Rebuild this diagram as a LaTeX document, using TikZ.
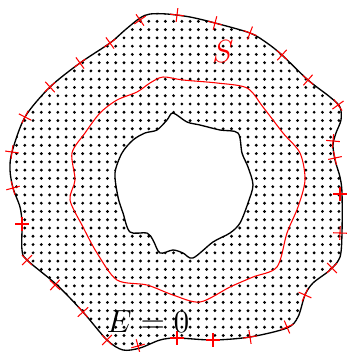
\documentclass[tikz,border=0pt]{standalone}
\usetikzlibrary{patterns}
\pgfdeclarepatternformonly{conductordots}{\pgfqpoint{-1pt}{-1pt}}{\pgfqpoint{1pt}{1pt}}{\pgfqpoint{3.1pt}{3.1pt}}%
    {\pgfpathcircle{\pgfpointorigin}{0.6pt}\pgfusepath{fill}}

\begin{document}
\begin{tikzpicture}[
        x=0.375pt, y=-0.375pt,
        region/.style={pattern=conductordots, even odd rule, draw=black, line width=0.5pt},
        tickmark/.style={red, line width=0.4pt},
        surface/.style={red, line width=0.4pt},
        label/.style={font=\large}
    ]
    \useasboundingbox (0,0) rectangle (346,352);

    % conductor with its hole
    \draw[region]
        plot[smooth cycle] coordinates {(140,18) (150,14) (167,14) (190,17) (215,23) (250,33) (267,43) (282,55) (308,80) (330,97) (340,107) (341,120) (336,133) (333,145) (335,160) (340,177) (342,193) (342,233) (340,257) (330,270) (313,283) (305,295) (298,317) (287,328) (250,337) (213,340) (177,338) (160,340) (140,348) (123,350) (107,340) (83,312) (57,285) (27,260) (22,250) (22,223) (20,207) (13,188) (10,170) (12,152) (25,117) (50,87) (80,63) (110,43) (125,30)}
        plot[smooth cycle] coordinates {(173,113) (187,122) (200,125) (220,130) (238,133) (242,153) (248,167) (253,185) (248,203) (240,223) (230,233) (213,242) (193,258) (183,253) (173,250) (160,253) (153,240) (147,233) (130,232) (123,213) (118,197) (115,173) (122,153) (133,140) (145,133) (157,130) (167,120)};

    % marks on the outer boundary
    \foreach \tx/\ty/\ta in {110/43/36, 140/20/35, 177/15/-7, 215/23/-15, 250/33/-21,
            282/55/-42, 308/80/-41, 338/105/-54, 333/141/-95, 335/158/-78,
            340/194/-90, 340/233/-92, 332/268/-136, 305/295/-114, 287/327/-157,
            250/337/-171, 213/340/180, 177/338/180, 138/346/-165, 107/340/136,
            83/312/132, 55/285/137, 27/260/135, 22/224/90, 13/188/105,
            12/152/82, 25/117/63, 50/87/42, 80/63/36}
        \draw[tickmark, shift={(\tx,\ty)}, rotate=\ta]
            (-2.6pt,0pt) -- (2.6pt,0pt) (0pt,-2.6pt) -- (0pt,2.6pt);

    % surface S
    \draw[surface]
        plot[smooth cycle] coordinates {(163,77) (183,80) (217,83) (247,88) (263,107) (283,133) (300,153) (305,180) (298,207) (287,233) (277,267) (253,277) (230,287) (200,302) (173,295) (147,285) (117,280) (97,253) (83,227) (70,200) (75,180) (72,153) (85,133) (100,113) (117,100) (137,92) (150,83)};

    \node[label, red] (slabel) at (223,52) {$S$};
    \node[label] (elabel) at (148,322) {$E=0$};
\end{tikzpicture}
\end{document}
